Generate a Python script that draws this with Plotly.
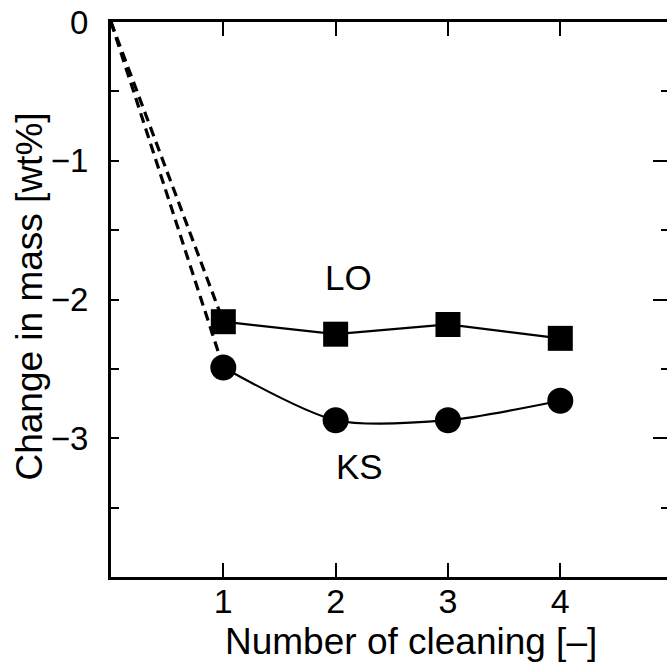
import plotly.graph_objects as go

cleanings = [1, 2, 3, 4]
lo_values = [-2.16, -2.25, -2.18, -2.28]
ks_values = [-2.49, -2.87, -2.87, -2.73]
origin_x = [0]
origin_y = [0]
y_tick_vals = [0, -1, -2, -3]
y_tick_text = ["0", "\u22121", "\u22122", "\u22123"]
y_minor_vals = [-0.5, -1.5, -2.5, -3.5]
x_tick_vals = [1, 2, 3, 4]

FONT = "Liberation Sans, Arial, sans-serif"

fig = go.Figure()

# dashed lines from origin to first points
fig.add_trace(go.Scatter(x=[origin_x[0], cleanings[0]], y=[origin_y[0], lo_values[0]],
                         mode="lines", line=dict(color="black", width=3.2, dash="10px,6px"),
                         showlegend=False, hoverinfo="skip"))
fig.add_trace(go.Scatter(x=[origin_x[0], cleanings[0]], y=[origin_y[0], ks_values[0]],
                         mode="lines", line=dict(color="black", width=3.2, dash="10px,6px"),
                         showlegend=False, hoverinfo="skip"))

# LO series
fig.add_trace(go.Scatter(x=cleanings, y=lo_values, mode="lines+markers",
                         line=dict(color="black", width=2.2),
                         marker=dict(symbol="square", size=25, color="black"),
                         showlegend=False))
# KS series
fig.add_trace(go.Scatter(x=cleanings, y=ks_values, mode="lines+markers",
                         line=dict(color="black", width=2.2, shape="spline", smoothing=0.75),
                         marker=dict(symbol="circle", size=26, color="black"),
                         showlegend=False))

# invisible trace to activate the right-side y axis
fig.add_trace(go.Scatter(x=[cleanings[0]], y=[lo_values[0]], yaxis="y2", mode="markers",
                         marker=dict(opacity=0), showlegend=False, hoverinfo="skip"))

fig.update_layout(
    width=667, height=672,
    margin=dict(l=111, r=0, t=22, b=95, autoexpand=False),
    paper_bgcolor="white", plot_bgcolor="white",
    font=dict(family=FONT, size=32, color="black"),
    xaxis=dict(range=[0, 4.95], showgrid=False, zeroline=False, automargin=False,
               showline=True, linecolor="black", linewidth=3, mirror="ticks",
               ticks="inside", ticklen=14, tickwidth=1.5, tickcolor="black",
               tickvals=x_tick_vals, ticklabelstandoff=-8,
               tickfont=dict(size=34, family=FONT)),
    yaxis=dict(range=[-4, 0], showgrid=False, zeroline=False, automargin=False,
               showline=True, linecolor="black", linewidth=3,
               ticks="inside", ticklen=8, tickwidth=1.5, tickcolor="black",
               tickvals=y_tick_vals, ticktext=y_tick_text, ticklabelstandoff=13,
               tickfont=dict(size=33, family=FONT),
               minor=dict(tickmode="array", tickvals=y_minor_vals, ticks="inside",
                          ticklen=8, tickwidth=1.5, tickcolor="black")),
    yaxis2=dict(range=[-4, 0], overlaying="y", side="right", showgrid=False,
                zeroline=False, showline=False, showticklabels=False, automargin=False,
                ticks="inside", ticklen=14, tickwidth=1.5, tickcolor="black",
                tickvals=y_tick_vals[1:],
                minor=dict(tickmode="array", tickvals=y_minor_vals, ticks="inside",
                           ticklen=6, tickwidth=1.5, tickcolor="black")),
    annotations=[
        dict(text="LO", x=2.11, y=-1.845, xref="x", yref="y", showarrow=False,
             font=dict(size=35, family=FONT), xanchor="center", yanchor="middle"),
        dict(text="KS", x=2.21, y=-3.2, xref="x", yref="y", showarrow=False,
             font=dict(size=35, family=FONT), xanchor="center", yanchor="middle"),
        dict(text="Number of cleaning [\u2013]", x=0.54, y=-0.117, xref="paper", yref="paper",
             showarrow=False, font=dict(size=37, family=FONT),
             xanchor="center", yanchor="middle"),
        dict(text="Change in mass [wt%]", x=-0.146, y=0.505, xref="paper", yref="paper",
             showarrow=False, textangle=-90, font=dict(size=37, family=FONT),
             xanchor="center", yanchor="middle"),
    ],
)

fig.write_html(
    "out.html",
    config={"displayModeBar": False},
    post_script="document.body.style.margin='0';document.body.style.overflow='hidden';",
)
